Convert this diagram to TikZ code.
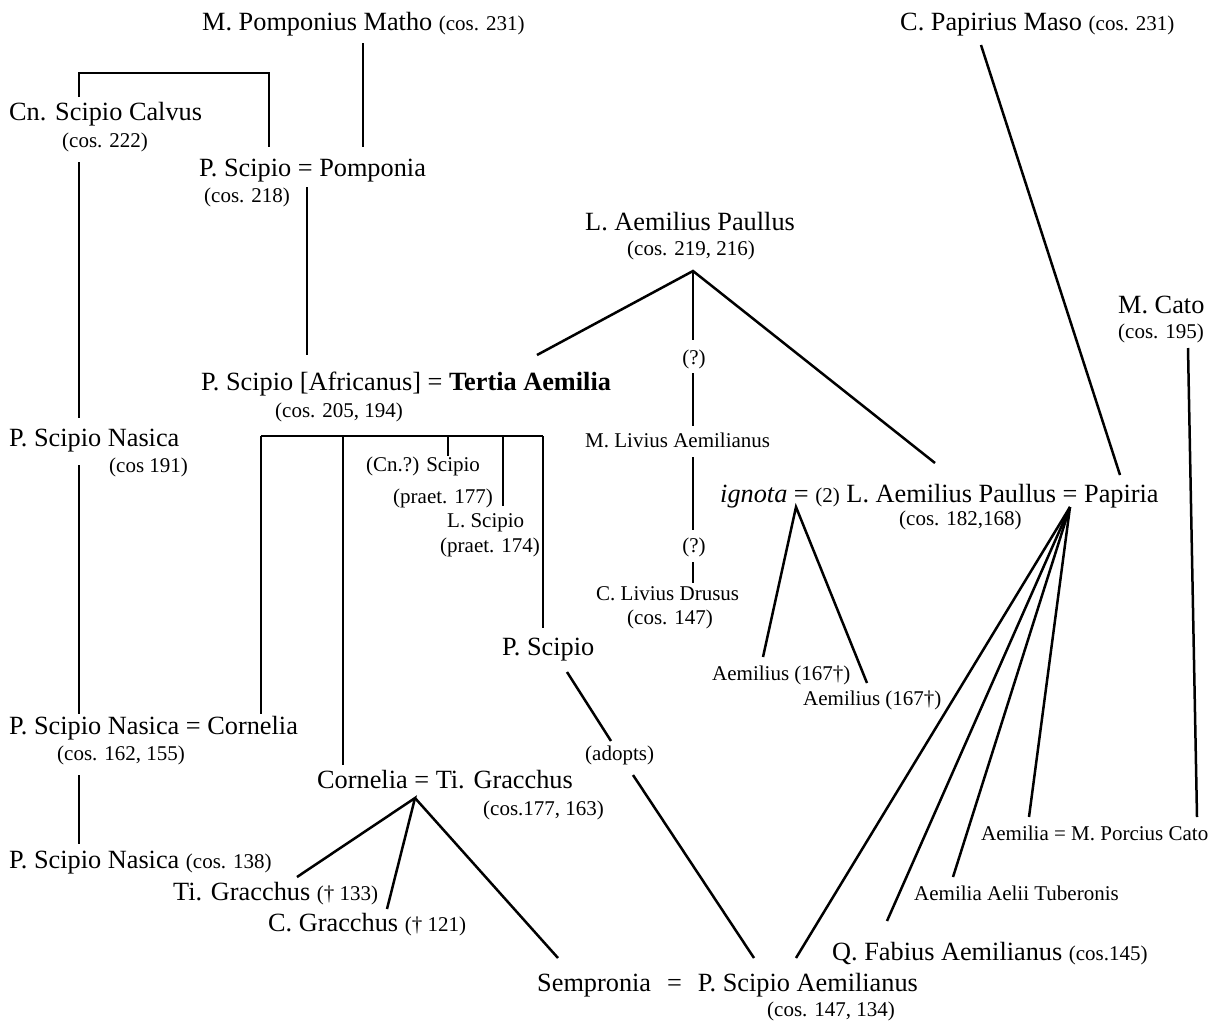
\documentclass[tikz,border=0pt]{standalone}
\usepackage{fontspec}
\setmainfont{Liberation Serif}
\newcommand\smtxt[1]{{\fontsize{21}{25}\selectfont #1}}
\begin{document}
\begin{tikzpicture}[x=1pt,y=-1pt,
  big/.style={inner sep=0pt, anchor=west, font=\fontsize{26.3}{30}\selectfont, text height=20pt, text depth=3pt},
  sml/.style={inner sep=0pt, anchor=west, font=\fontsize{21}{25}\selectfont, text height=16pt, text depth=2pt},
  link/.style={line width=2.5pt}]
\useasboundingbox[fill=white] (0,0) rectangle (1218,1020);

% ---- persons ----
\node[big] (matho) at (202,22) {M. Pomponius Matho \smtxt{(cos. 231)}};
\node[big] (maso) at (900,22) {C. Papirius Maso \smtxt{(cos. 231)}};
\node[big] (calvus) at (9,112) {Cn. Scipio Calvus};
\node[sml] (calvuscos) at (62,140) {(cos. 222)};
\node[big] (pscipio) at (199,168) {P. Scipio = Pomponia};
\node[sml] (pscipiocos) at (204,195) {(cos. 218)};
\node[big] (paullus) at (585,222) {L. Aemilius Paullus};
\node[sml] (paulluscos) at (627,248) {(cos. 219, 216)};
\node[big] (cato) at (1118,305) {M. Cato};
\node[sml] (catocos) at (1118,331) {(cos. 195)};
\node[sml, anchor=center] (qa) at (694,357) {(?)};
\node[big] (africanus) at (201,382) {P. Scipio [Africanus] = \textbf{Tertia Aemilia}};
\node[sml] (africos) at (275,410) {(cos. 205, 194)};
\node[big] (nasica) at (9,438) {P. Scipio Nasica};
\node[sml] (nasicacos) at (109,465) {(cos 191)};
\node[sml] (livius) at (585,440) {M. Livius Aemilianus};
\node[sml] (cnscipio) at (366,464) {(Cn.?) Scipio};
\node[sml] (cnscipiocos) at (393,496) {(praet. 177)};
\node[big] (paullusb) at (720,494) {\textit{ignota} = \smtxt{(2)} L. Aemilius Paullus = Papiria};
\node[sml] (paullusbcos) at (899,518) {(cos. 182,168)};
\node[sml] (lscipio) at (447,520) {L. Scipio};
\node[sml] (lscipiocos) at (440,545) {(praet. 174)};
\node[sml, anchor=center] (qb) at (694,545) {(?)};
\node[sml] (drusus) at (596,593) {C. Livius Drusus};
\node[sml] (drususcos) at (627,617) {(cos. 147)};
\node[big] (pscipiob) at (502,647) {P. Scipio};
\node[sml] (aema) at (712,673) {Aemilius (167†)};
\node[sml] (aemb) at (803,698) {Aemilius (167†)};
\node[big] (nasicab) at (9,726) {P. Scipio Nasica = Cornelia};
\node[sml] (nasicabcos) at (57,753) {(cos. 162, 155)};
\node[sml] (adopts) at (585,753) {(adopts)};
\node[big] (gracchus) at (317,780) {Cornelia = Ti. Gracchus};
\node[sml] (gracchuscos) at (483,808) {(cos.177, 163)};
\node[sml] (aemcato) at (981,833) {Aemilia = M. Porcius Cato};
\node[big] (nasicac) at (9,860) {P. Scipio Nasica \smtxt{(cos. 138)}};
\node[sml] (tubero) at (914,893) {Aemilia Aelii Tuberonis};
\node[big] (tigr) at (173,892) {Ti. Gracchus \smtxt{(† 133)}};
\node[big] (cgr) at (268,923) {C. Gracchus \smtxt{(† 121)}};
\node[big] (fabius) at (832,952) {Q. Fabius Aemilianus \smtxt{(cos.145)}};
\node[big] (aemilianus) at (537,983) {Sempronia\hspace{16pt}=\hspace{16pt}P. Scipio Aemilianus};
\node[sml] (aemilianuscos) at (767,1009) {(cos. 147, 134)};

% ---- connector end points ----
\coordinate (calvusup) at (79,97);
\coordinate (brL) at (79,73);
\coordinate (brR) at (269,73);
\coordinate (pscipioup) at (269,147);
\coordinate (mathodown) at (363,43);
\coordinate (pomponiaup) at (363,147);
\coordinate (pscipiodown) at (307,187);
\coordinate (africanusup) at (307,355);
\coordinate (calvusdown) at (79,162);
\coordinate (nasicaup) at (79,418);
\coordinate (nasicadown) at (79,465);
\coordinate (nasicabup) at (79,714);
\coordinate (nasicabdown) at (79,775);
\coordinate (nasicacup) at (79,844);
\coordinate (paullusapex) at (693,271);
\coordinate (tertiaup) at (537,355);
\coordinate (qaup) at (693,340);
\coordinate (paullusbup) at (935,463);
\coordinate (qadown) at (693,373);
\coordinate (liviusup) at (693,426);
\coordinate (liviusdown) at (693,457);
\coordinate (qbup) at (693,530);
\coordinate (qbdown) at (693,562);
\coordinate (drususup) at (693,583);
\coordinate (afL) at (261,436);
\coordinate (afR) at (543,436);
\coordinate (cornNasUp) at (261,714);
\coordinate (afB) at (343,436);
\coordinate (cornGrUp) at (343,765);
\coordinate (afC) at (448,436);
\coordinate (cnscipioup) at (448,456);
\coordinate (afD) at (503,436);
\coordinate (lscipioup) at (503,506);
\coordinate (pscipiobup) at (543,628);
\coordinate (masodown) at (981,45);
\coordinate (papiriaup) at (1120,475);
\coordinate (catodown) at (1188,348);
\coordinate (porciusup) at (1197,817);
\coordinate (ignotaapex) at (796,507);
\coordinate (aemaup) at (763,657);
\coordinate (aembup) at (867,683);
\coordinate (papiriaapex) at (1070,507);
\coordinate (aemilianusup) at (796,958);
\coordinate (fabiusup) at (887,921);
\coordinate (tuberoup) at (953,877);
\coordinate (aemiliaup) at (1029,817);
\coordinate (pscipiobdown) at (567,672);
\coordinate (adoptsup) at (611,741);
\coordinate (adoptsdown) at (633,775);
\coordinate (aemilianusupb) at (754,958);
\coordinate (gracchusapex) at (415,798);
\coordinate (tigrup) at (297,877);
\coordinate (cgrup) at (387,909);
\coordinate (sempup) at (558,958);

% ---- connectors ----
\draw[link] (calvusup) -- (brL) -- (brR) -- (pscipioup);
\draw[link] (mathodown) -- (pomponiaup);
\draw[link] (pscipiodown) -- (africanusup);
\draw[link] (calvusdown) -- (nasicaup);
\draw[link] (nasicadown) -- (nasicabup);
\draw[link] (nasicabdown) -- (nasicacup);
\draw[link] (tertiaup) -- (paullusapex) -- (paullusbup);
\draw[link] (paullusapex) -- (qaup);
\draw[link] (qadown) -- (liviusup);
\draw[link] (liviusdown) -- (qbup);
\draw[link] (qbdown) -- (drususup);
\draw[link] (afL) -- (afR);
\draw[link] (afL) -- (cornNasUp);
\draw[link] (afB) -- (cornGrUp);
\draw[link] (afC) -- (cnscipioup);
\draw[link] (afD) -- (lscipioup);
\draw[link] (afR) -- (pscipiobup);
\draw[link] (masodown) -- (papiriaup);
\draw[link] (catodown) -- (porciusup);
\draw[link] (aemaup) -- (ignotaapex) -- (aembup);
\draw[link] (papiriaapex) -- (aemilianusup);
\draw[link] (papiriaapex) -- (fabiusup);
\draw[link] (papiriaapex) -- (tuberoup);
\draw[link] (papiriaapex) -- (aemiliaup);
\draw[link] (pscipiobdown) -- (adoptsup);
\draw[link] (adoptsdown) -- (aemilianusupb);
\draw[link] (tigrup) -- (gracchusapex) -- (cgrup);
\draw[link] (gracchusapex) -- (sempup);
\end{tikzpicture}
\end{document}
